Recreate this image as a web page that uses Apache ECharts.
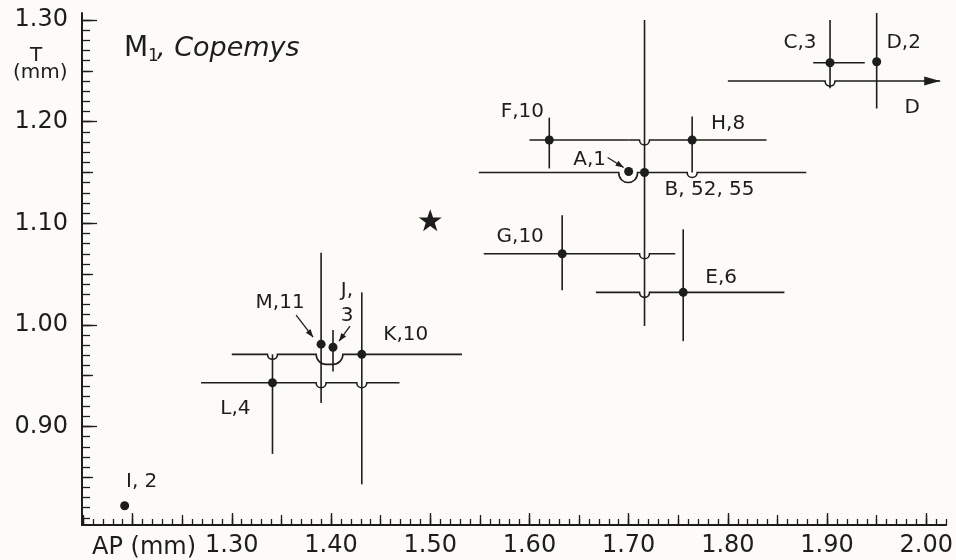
<!DOCTYPE html>
<html>
<head>
<meta charset="utf-8">
<script src="https://cdn.jsdelivr.net/npm/echarts@6/dist/echarts.min.js"></script>
<style>
html,body{margin:0;padding:0;background:#fdfbf8;}
#main{width:956px;height:560px;}
</style>
</head>
<body>
<div id="main"></div>
<script>
// samples (letter, N) with mean AP and mean T, in mm
var groups = ['A','B','C','D','E','F','G','H','I','J','K','L','M'];
var counts = ['1','52, 55','3','2','6','10','10','8','2','3','10','4','11'];
var meanAP = [1.700, 1.716, 1.903, 1.950, 1.755, 1.620, 1.633, 1.764, 1.192, 1.402, 1.431, 1.341, 1.390];
var meanT  = [1.151, 1.150, 1.258, 1.259, 1.032, 1.182, 1.070, 1.182, 0.822, 0.978, 0.971, 0.943, 0.981];
// observed range of T (vertical bars), null = none drawn
var rangeLo = [null, 0.999, 1.233, 1.213, 0.984, 1.154, 1.034, 1.150, null, 0.954, 0.843, 0.873, 0.923];
var rangeHi = [null, 1.300, 1.300, 1.307, 1.094, 1.204, 1.108, 1.205, null, 0.995, 1.032, 0.971, 1.071];
// observed range of AP (horizontal bars) and the T level they are drawn at
var barGroup = ['B', 'F', 'H', 'C', 'D', 'G', 'E', 'K', 'L'];
var barFrom  = [1.549, 1.600, 1.700, 1.886, 1.800, 1.554, 1.667, 1.300, 1.269];
var barTo    = [1.879, 1.700, 1.839, 1.938, 2.014, 1.747, 1.857, 1.532, 1.469];
var barT     = [1.150, 1.182, 1.182, 1.258, 1.240, 1.070, 1.032, 0.971, 0.943];
var openEnded = ['D'];
// stretches where a bar bends down under other dots
var detourGroup = ['B', 'K'];
var detourFrom  = [1.690, 1.385];
var detourTo    = [1.709, 1.412];
// star
var starAP = 1.500, starT = 1.103;
// axes
var apMin = 1.149, apMax = 2.02, tMin = 0.803, tMax = 1.307;
var xTickLabels = [1.30, 1.40, 1.50, 1.60, 1.70, 1.80, 1.90, 2.00];
var yTickLabels = [0.90, 1.00, 1.10, 1.20, 1.30];

var ink = '#1d1d1d', paper = '#fdfbf8', font = 'DejaVu Sans';

// label placement next to each dot (px)
var labelOffset = {A:[-39,-12], B:[65,17], C:[-30,-20], D:[27,-19], E:[38,-15], F:[-27,-28],
  G:[-42,-17], H:[36,-16], I:[17,-24], J:[14,-44], K:[44,-20], L:[-37,26], M:[-41,-41]};
var labelSep = {B: ', ', I: ', ', J: ',\n'};
var leaderFrom = {A:[-21,-14], M:[-25,-29], J:[17,-21]};
var leaderTo = {A:[-5,-4], M:[-8,-7], J:[6,-6]};

function ticks(from, to, step) {
  var out = [];
  var n0 = Math.ceil(from / step - 1e-6), n1 = Math.floor(to / step + 1e-6);
  for (var i = n0; i <= n1; i++) out.push(Math.round(i * step * 1000) / 1000);
  return out;
}

function axisLayer(dim, values, len, labels) {
  var a = {
    type: 'value', gridIndex: 0,
    min: dim == 'x' ? apMin : tMin, max: dim == 'x' ? apMax : tMax,
    position: dim == 'x' ? 'bottom' : 'left',
    axisLine: {show: !!labels, onZero: false, lineStyle: {color: ink, width: 2}},
    axisTick: {show: true, inside: true, length: len, customValues: values, lineStyle: {color: ink, width: 1.3}},
    axisLabel: {show: false},
    splitLine: {show: false}
  };
  if (labels) {
    a.axisLabel = {show: true, customValues: labels, color: ink, fontFamily: font, fontSize: 24,
      margin: dim == 'x' ? 9 : 14, formatter: function (v) { return v.toFixed(2); }};
  }
  return a;
}

var vData = [];
groups.forEach(function (g, i) {
  if (rangeLo[i] != null) vData.push([meanAP[i], rangeLo[i], rangeHi[i]]);
});
var barData = barGroup.map(function (g, i) { return [barFrom[i], barTo[i], barT[i], i]; });

function bendPath(x1, x2, y, bends) {
  var d = 'M' + x1 + ' ' + y;
  bends.forEach(function (h) {
    var a = h.a, b = h.b, r = h.r;
    d += ' L' + a + ' ' + y;
    if (b - a <= 2 * r + 0.5) {
      d += ' C' + a + ' ' + (y + 1.33 * r) + ' ' + b + ' ' + (y + 1.33 * r) + ' ' + b + ' ' + y;
    } else {
      d += ' C' + a + ' ' + (y + 0.55 * r) + ' ' + (a + 0.45 * r) + ' ' + (y + r) + ' ' + (a + r) + ' ' + (y + r);
      d += ' L' + (b - r) + ' ' + (y + r);
      d += ' C' + (b - 0.45 * r) + ' ' + (y + r) + ' ' + b + ' ' + (y + 0.55 * r) + ' ' + b + ' ' + y;
    }
  });
  return d + ' L' + x2 + ' ' + y;
}

var lineStyle = {stroke: ink, lineWidth: 1.6, fill: 'none'};

var labelData = groups.map(function (g, i) {
  return {value: [meanAP[i], meanT[i]],
    label: {formatter: g + (labelSep[g] || ',') + counts[i], offset: labelOffset[g]}};
});
var dIdx = barGroup.indexOf('D');
labelData.push({value: [barTo[dIdx], barT[dIdx]], label: {formatter: 'D', offset: [-28, 27]}});

var leaderData = [];
groups.forEach(function (g, i) { if (leaderFrom[g]) leaderData.push([meanAP[i], meanT[i], i]); });

var chart = echarts.init(document.getElementById('main'));
chart.setOption({
  backgroundColor: paper,
  animation: false,
  grid: {left: 82, right: 3, top: 13, bottom: 35},
  xAxis: [
    axisLayer('x', ticks(1.2, 2.0, 0.1), 12, xTickLabels),
    axisLayer('x', ticks(1.15, 2.0, 0.05), 10),
    axisLayer('x', ticks(1.15, apMax, 0.01), 6)
  ],
  yAxis: [
    axisLayer('y', ticks(0.9, 1.3, 0.1), 15, yTickLabels),
    axisLayer('y', ticks(0.85, 1.3, 0.05), 11),
    axisLayer('y', ticks(0.81, 1.30, 0.01), 8)
  ],
  series: [
    {
      type: 'custom', silent: true, data: vData,
      renderItem: function (params, api) {
        var p1 = api.coord([api.value(0), api.value(1)]);
        var p2 = api.coord([api.value(0), api.value(2)]);
        return {type: 'line', shape: {x1: p1[0], y1: p1[1], x2: p2[0], y2: p2[1]}, style: lineStyle};
      }
    },
    {
      type: 'custom', silent: true, data: barData,
      renderItem: function (params, api) {
        var i = api.value(3);
        var p1 = api.coord([barFrom[i], barT[i]]), p2 = api.coord([barTo[i], barT[i]]);
        var y = p1[1], bends = [], spans = [];
        detourGroup.forEach(function (g, k) {
          if (g != barGroup[i]) return;
          spans.push([detourFrom[k], detourTo[k]]);
          bends.push({a: api.coord([detourFrom[k], barT[i]])[0], b: api.coord([detourTo[k], barT[i]])[0], r: 10});
        });
        groups.forEach(function (g, k) {
          if (g == barGroup[i] || rangeLo[k] == null) return;
          var ap = meanAP[k];
          if (ap <= barFrom[i] || ap >= barTo[i]) return;
          if (rangeLo[k] > barT[i] + 0.002 || rangeHi[k] < barT[i] - 0.002) return;
          for (var s = 0; s < spans.length; s++) if (ap >= spans[s][0] && ap <= spans[s][1]) return;
          var cx = api.coord([ap, barT[i]])[0];
          bends.push({a: cx - 5, b: cx + 5, r: 5});
        });
        bends.sort(function (u, v) { return u.a - v.a; });
        var kids = [{type: 'path', shape: {pathData: bendPath(p1[0], p2[0], y, bends)}, style: lineStyle}];
        if (openEnded.indexOf(barGroup[i]) >= 0) {
          kids.push({type: 'polygon', shape: {points: [[p2[0], y], [p2[0] - 16, y - 4.5], [p2[0] - 16, y + 4.5]]},
            style: {fill: ink}});
        }
        return {type: 'group', children: kids};
      }
    },
    {
      type: 'custom', silent: true, data: leaderData,
      renderItem: function (params, api) {
        var g = groups[api.value(2)];
        var p = api.coord([api.value(0), api.value(1)]);
        var a = [p[0] + leaderFrom[g][0], p[1] + leaderFrom[g][1]];
        var b = [p[0] + leaderTo[g][0], p[1] + leaderTo[g][1]];
        var dx = b[0] - a[0], dy = b[1] - a[1], n = Math.sqrt(dx * dx + dy * dy);
        var ux = dx / n, uy = dy / n;
        var head = [[b[0], b[1]], [b[0] - 8 * ux - 3 * uy, b[1] - 8 * uy + 3 * ux], [b[0] - 8 * ux + 3 * uy, b[1] - 8 * uy - 3 * ux]];
        return {type: 'group', children: [
          {type: 'line', shape: {x1: a[0], y1: a[1], x2: b[0], y2: b[1]}, style: {stroke: ink, lineWidth: 1.3}},
          {type: 'polygon', shape: {points: head}, style: {fill: ink}}
        ]};
      }
    },
    {
      type: 'scatter', silent: true, symbolSize: 9, itemStyle: {color: ink, opacity: 1},
      data: groups.map(function (g, i) { return [meanAP[i], meanT[i]]; })
    },
    {
      type: 'scatter', silent: true, symbolSize: [23, 22], itemStyle: {color: ink, opacity: 1},
      symbol: 'path://M50,0 L61.8,34.5 L97.6,34.5 L68.6,55.9 L79.4,90.5 L50,69.1 L20.6,90.5 L31.4,55.9 L2.4,34.5 L38.2,34.5 Z',
      data: [[starAP, starT]]
    },
    {
      type: 'scatter', silent: true, symbolSize: 1, itemStyle: {color: 'transparent', opacity: 1},
      label: {show: true, position: 'inside', color: ink, fontFamily: font, fontSize: 20,
        align: 'center', verticalAlign: 'middle', lineHeight: 25},
      data: labelData
    }
  ],
  graphic: [
    {type: 'text', left: 124, top: 35, silent: true, style: {text: 'M', fill: ink, font: '28px "DejaVu Sans"'}},
    {type: 'text', left: 148, top: 48, silent: true, style: {text: '1', fill: ink, font: '17px "DejaVu Sans"'}},
    {type: 'text', left: 157, top: 35, silent: true, style: {text: ', Copemys', fill: ink, font: 'italic 27px "DejaVu Sans"'}},
    {type: 'text', left: 30, top: 46, silent: true, style: {text: 'T', fill: ink, font: '20px "DejaVu Sans"'}},
    {type: 'text', left: 13, top: 63, silent: true, style: {text: '(mm)', fill: ink, font: '20px "DejaVu Sans"'}},
    {type: 'text', left: 92, top: 536, silent: true, style: {text: 'AP (mm)', fill: ink, font: '24px "DejaVu Sans"'}}
  ]
});
</script>
</body>
</html>
